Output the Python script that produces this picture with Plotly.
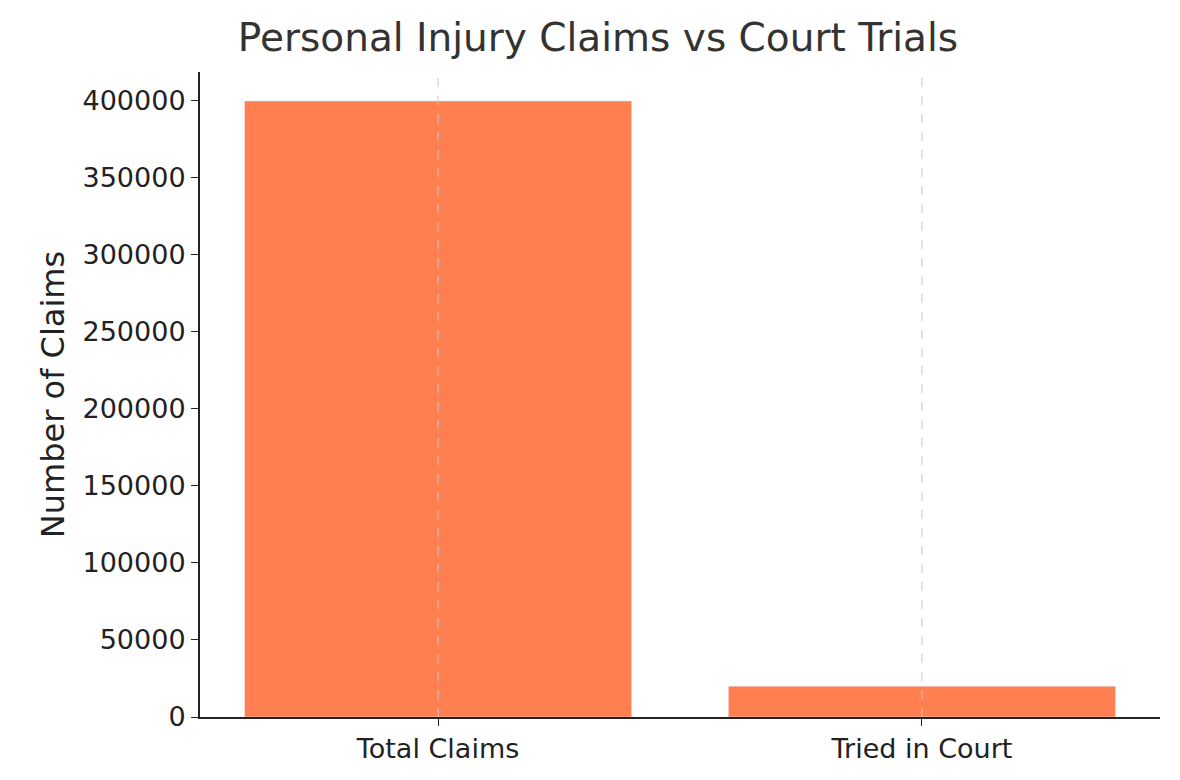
import plotly.graph_objects as go

categories = ["Total Claims", "Tried in Court"]
claims = [400000, 20000]

fig = go.Figure(go.Bar(x=categories, y=claims, marker_color="#FF7F50", width=0.8))

# dashed grid lines sit on top of the bars in the original
for c in categories:
    fig.add_shape(type="line", xref="x", yref="paper", x0=c, x1=c, y0=0, y1=1,
                  line=dict(color="#c8c8c8", width=1, dash="dash"), layer="above")

fig.update_layout(
    width=1180, height=780,
    paper_bgcolor="white", plot_bgcolor="white",
    margin=dict(l=192, r=28, t=64, b=71),
    font=dict(family="DejaVu Sans", size=27, color="#222"),
    title=dict(text="Personal Injury Claims vs Court Trials", x=0.5, xanchor="center",
               y=0.962, yanchor="middle", font=dict(size=39, color="#333")),
    showlegend=False,
)
fig.update_xaxes(range=[-0.492, 1.492], showline=True, linecolor="#222", linewidth=2,
                 ticks="outside", ticklen=7, tickcolor="#222", showgrid=False)
fig.update_yaxes(range=[0, 418800], showline=True, linecolor="#222", linewidth=2,
                 ticks="outside", ticklen=7, tickcolor="#222", showgrid=False,
                 tickformat="d", dtick=50000, zeroline=False,
                 title=dict(text="Number of Claims", standoff=8))

fig.write_html("out.html")
